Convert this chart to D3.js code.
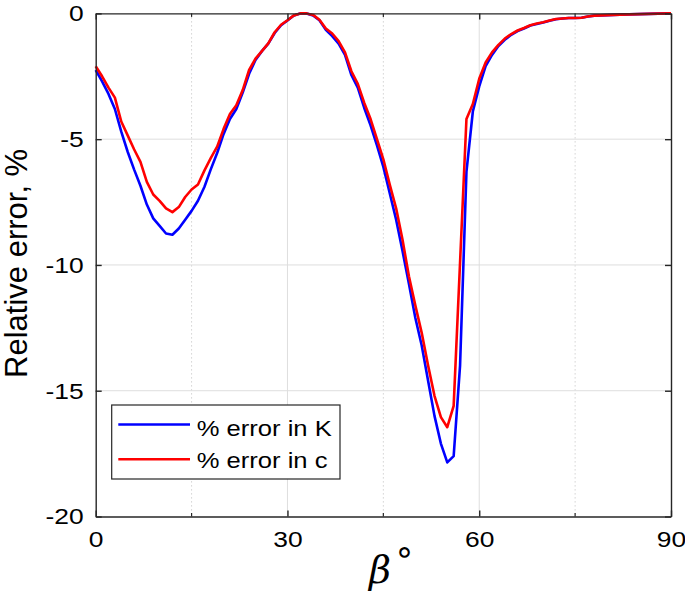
<!DOCTYPE html>
<html>
<head>
<meta charset="utf-8">
<script src="https://cdn.jsdelivr.net/npm/d3@7"></script>
<style>
  body { margin: 0; background: #fff; }
  svg { display: block; }
</style>
</head>
<body>
<div id="chart"></div>
<script>
// Data: relative error (%) vs beta (degrees)
var beta = [0,1,2,3,4,5,6,7,8,9,10,11,12,13,14,15,16,17,18,19,
    20,21,22,23,24,25,26,27,28,29,30,31,32,33,34,35,36,37,38,39,
    40,41,42,43,44,45,46,47,48,49,50,51,52,53,54,55,56,57,58,59,
    60,61,62,63,64,65,66,67,68,69,70,71,72,73,74,75,76,77,78,80,
    82,85,88,90];

var errK = [-2.25,-2.7,-3.2,-3.8,-4.7,-5.5,-6.2,-6.85,-7.6,-8.15,
    -8.45,-8.75,-8.8,-8.55,-8.2,-7.85,-7.45,-6.9,-6.2,-5.55,
    -4.8,-4.2,-3.8,-3.15,-2.4,-1.85,-1.5,-1.2,-0.78,-0.47,
    -0.28,-0.08,0,0,-0.08,-0.27,-0.65,-0.9,-1.2,-1.65,
    -2.45,-2.95,-3.75,-4.45,-5.25,-6.1,-7.15,-8.2,-9.45,-10.75,
    -12.1,-13.2,-14.6,-16.0,-17.1,-17.85,-17.6,-14.0,-6.3,-3.9,
    -2.9,-2.1,-1.65,-1.3,-1.05,-0.85,-0.7,-0.6,-0.48,-0.42,
    -0.36,-0.29,-0.23,-0.2,-0.18,-0.18,-0.17,-0.12,-0.09,-0.07,
    -0.05,-0.03,-0.01,0];

var errC = [-2.1,-2.5,-2.95,-3.35,-4.3,-4.85,-5.4,-5.9,-6.7,-7.2,
    -7.45,-7.75,-7.9,-7.7,-7.3,-7.0,-6.8,-6.25,-5.75,-5.3,
    -4.6,-4.0,-3.65,-3.05,-2.25,-1.8,-1.5,-1.19,-0.75,-0.45,
    -0.27,-0.08,0,0,-0.06,-0.25,-0.6,-0.8,-1.1,-1.55,
    -2.3,-2.8,-3.55,-4.2,-5.0,-5.8,-6.8,-7.75,-9.0,-10.45,
    -11.6,-12.7,-14.0,-15.2,-16.05,-16.45,-15.6,-9.9,-4.2,-3.6,
    -2.6,-1.95,-1.55,-1.25,-1.0,-0.82,-0.68,-0.58,-0.47,-0.4,
    -0.35,-0.28,-0.22,-0.2,-0.18,-0.18,-0.17,-0.12,-0.09,-0.07,
    -0.05,-0.03,-0.01,0];

var xTicks = [0, 30, 60, 90];
var xMinorTicks = [15, 45, 75];
var yTicks = [0, -5, -10, -15, -20];
var seriesNames = ["% error in K", "% error in c"];
var seriesColors = ["#0000ff", "#ff0000"];

// svg area and margins
var svgWidth = 685;
var svgHeight = 593;
var chartMargin = { top: 13.4, right: 14, bottom: 76.5, left: 95.7 };
var chartWidth = svgWidth - chartMargin.left - chartMargin.right;
var chartHeight = svgHeight - chartMargin.top - chartMargin.bottom;

var svg = d3.select("#chart")
    .append("svg")
    .attr("width", svgWidth)
    .attr("height", svgHeight);

var chartGroup = svg.append("g")
    .attr("transform", `translate(${chartMargin.left}, ${chartMargin.top})`);

var xScale = d3.scaleLinear().domain([0, 90]).range([0, chartWidth]);
var yScale = d3.scaleLinear().domain([-20, 0]).range([chartHeight, 0]);

var axisColor = "#262626";
var fontFamily = "'Liberation Sans', Arial, Helvetica, sans-serif";

// grid lines
chartGroup.append("g").selectAll("line.vmajor")
    .data(xTicks.slice(1, -1))
    .enter().append("line")
    .attr("x1", d => xScale(d)).attr("x2", d => xScale(d))
    .attr("y1", 0).attr("y2", chartHeight)
    .attr("stroke", "#dedede").attr("stroke-width", 1);

chartGroup.append("g").selectAll("line.vminor")
    .data(xMinorTicks)
    .enter().append("line")
    .attr("x1", d => xScale(d)).attr("x2", d => xScale(d))
    .attr("y1", 0).attr("y2", chartHeight)
    .attr("stroke", "#bdbdbd").attr("stroke-width", 1)
    .attr("stroke-dasharray", "1,3");

chartGroup.append("g").selectAll("line.hmajor")
    .data(yTicks.slice(1, -1))
    .enter().append("line")
    .attr("x1", 0).attr("x2", chartWidth)
    .attr("y1", d => yScale(d)).attr("y2", d => yScale(d))
    .attr("stroke", "#dedede").attr("stroke-width", 1);

// the two curves
var seriesData = [errK, errC].map(vals => beta.map((b, i) => ({ x: b, y: vals[i] })));

var line = d3.line()
    .x(d => xScale(d.x))
    .y(d => yScale(d.y));

chartGroup.selectAll("path.series")
    .data(seriesData)
    .enter().append("path")
    .attr("class", "series")
    .attr("d", line)
    .attr("fill", "none")
    .attr("stroke", (d, i) => seriesColors[i])
    .attr("stroke-width", 2.6)
    .attr("stroke-linejoin", "round");

// axes, ticks point inward like the original (box on)
function styleAxis(g) {
    g.select(".domain").attr("stroke", axisColor).attr("stroke-width", 1.4);
    g.selectAll(".tick line").attr("stroke", axisColor).attr("stroke-width", 1.4);
    g.selectAll("text")
        .attr("fill", "#000")
        .attr("font-family", fontFamily)
        .attr("font-size", "22px");
}

var bottomAxis = d3.axisBottom(xScale).tickValues(xTicks)
    .tickSize(-6).tickSizeOuter(0).tickPadding(0).tickFormat(d => String(d));
var leftAxis = d3.axisLeft(yScale).tickValues(yTicks)
    .tickSize(-6).tickSizeOuter(0).tickPadding(0).tickFormat(d => String(d));

var gx = chartGroup.append("g")
    .attr("transform", `translate(0, ${chartHeight})`)
    .call(bottomAxis)
    .call(styleAxis);
gx.selectAll(".tick text")
    .attr("y", 31).attr("dy", 0)
    .attr("transform", "scale(1.2,1)");

var gy = chartGroup.append("g")
    .call(leftAxis)
    .call(styleAxis);
gy.selectAll(".tick text")
    .attr("x", -10).attr("dy", "0.34em")
    .attr("transform", "scale(1.2,1)");

chartGroup.append("g")
    .call(d3.axisTop(xScale).tickValues(xTicks).tickSize(-6).tickSizeOuter(0).tickFormat(""))
    .call(styleAxis);
chartGroup.append("g")
    .attr("transform", `translate(${chartWidth}, 0)`)
    .call(d3.axisRight(yScale).tickValues(yTicks).tickSize(-6).tickSizeOuter(0).tickFormat(""))
    .call(styleAxis);

// minor ticks on top and bottom
[0, chartHeight].forEach(function(yy) {
    chartGroup.append("g").selectAll("line")
        .data(xMinorTicks)
        .enter().append("line")
        .attr("x1", d => xScale(d)).attr("x2", d => xScale(d))
        .attr("y1", yy).attr("y2", yy === 0 ? 3.5 : yy - 3.5)
        .attr("stroke", axisColor).attr("stroke-width", 1.2);
});

// axis labels
svg.append("text")
    .attr("transform", `translate(27, ${chartMargin.top + 250}) rotate(-90)`)
    .attr("text-anchor", "middle")
    .attr("font-family", fontFamily)
    .attr("font-size", "31px")
    .text("Relative error, %");

svg.append("text")
    .attr("x", 369)
    .attr("y", 583)
    .attr("font-family", "'DejaVu Serif', 'Liberation Serif', serif")
    .attr("font-style", "italic")
    .attr("font-size", "38px")
    .text("β");
svg.append("text")
    .attr("x", 394)
    .attr("y", 563)
    .attr("font-family", "'DejaVu Sans', sans-serif")
    .attr("font-size", "34px")
    .text("∘");

// legend
var legend = svg.append("g");
legend.append("rect")
    .attr("x", 111.7).attr("y", 405)
    .attr("width", 228.3).attr("height", 74)
    .attr("fill", "#fff")
    .attr("stroke", axisColor).attr("stroke-width", 1.2);

var legendRows = [
    { lineY: 424.5, textY: 436 },
    { lineY: 459.3, textY: 468.3 }
];
legendRows.forEach(function(row, i) {
    legend.append("line")
        .attr("x1", 118.3).attr("x2", 190)
        .attr("y1", row.lineY).attr("y2", row.lineY)
        .attr("stroke", seriesColors[i]).attr("stroke-width", 2.6);
    legend.append("text")
        .attr("transform", `translate(196.7, ${row.textY}) scale(1.19,1)`)
        .attr("font-family", fontFamily)
        .attr("font-size", "21.5px")
        .text(seriesNames[i]);
});
</script>
</body>
</html>
